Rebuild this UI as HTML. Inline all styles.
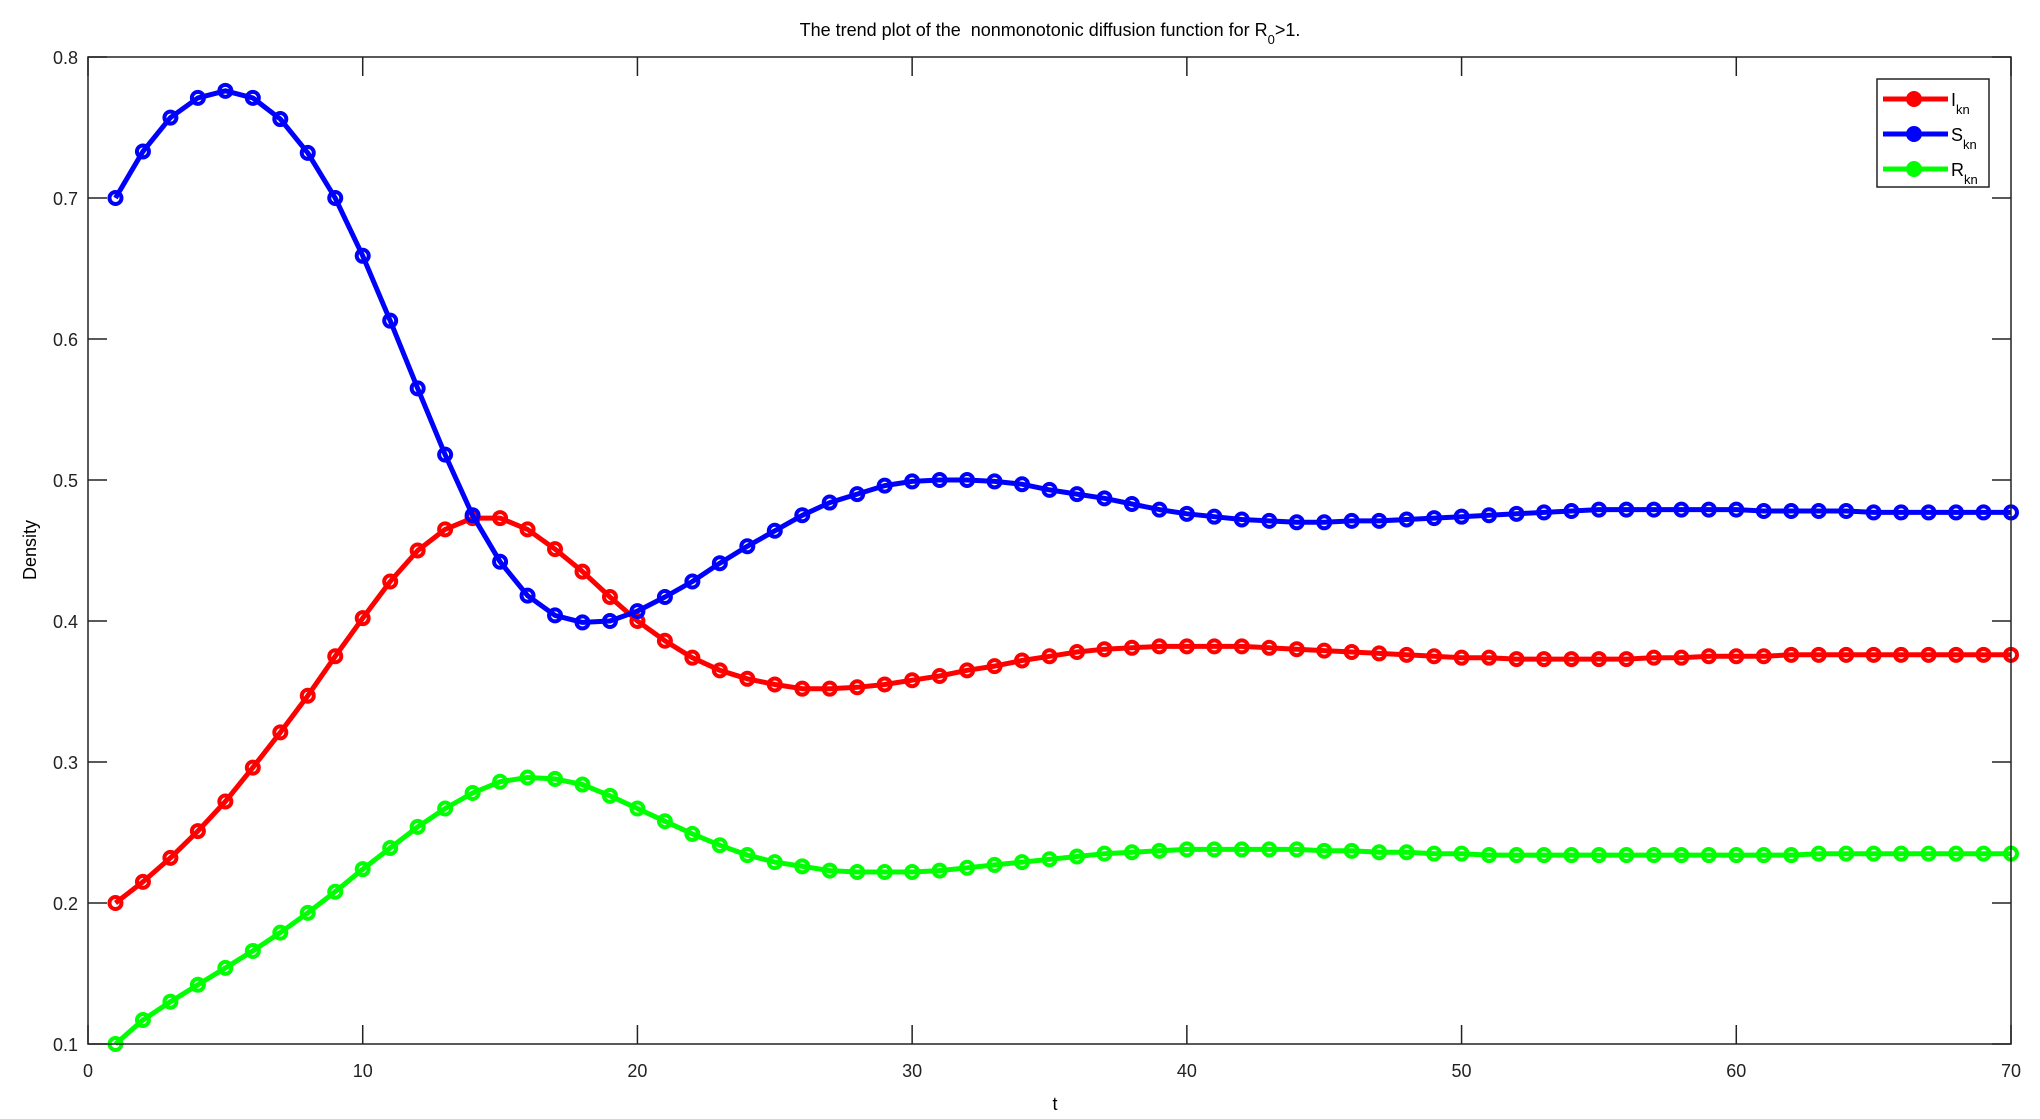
<!DOCTYPE html>
<html><head><meta charset="utf-8"><style>
body{margin:0;background:#fff}
svg{display:block;font-family:"Liberation Sans",sans-serif}
</style></head><body>
<svg id="s" width="2040" height="1119" xmlns="http://www.w3.org/2000/svg">
<rect width="2040" height="1119" fill="#fff"/>
</svg>
<script>
const S=[0.70,0.733,0.757,0.771,0.776,0.771,0.756,0.732,0.700,0.659,0.613,0.565,0.518,0.475,0.442,0.418,0.404,0.399,0.400,0.407,0.417,0.428,0.441,0.453,0.464,0.475,0.484,0.490,0.496,0.499,0.500,0.500,0.499,0.497,0.493,0.490,0.487,0.483,0.479,0.476,0.474,0.472,0.471,0.470,0.470,0.471,0.471,0.472,0.473,0.474,0.475,0.476,0.477,0.478,0.479,0.479,0.479,0.479,0.479,0.479,0.478,0.478,0.478,0.478,0.477,0.477,0.477,0.477,0.477,0.477];
const I=[0.200,0.215,0.232,0.251,0.272,0.296,0.321,0.347,0.375,0.402,0.428,0.450,0.465,0.473,0.473,0.465,0.451,0.435,0.417,0.400,0.386,0.374,0.365,0.359,0.355,0.352,0.352,0.353,0.355,0.358,0.361,0.365,0.368,0.372,0.375,0.378,0.380,0.381,0.382,0.382,0.382,0.382,0.381,0.380,0.379,0.378,0.377,0.376,0.375,0.374,0.374,0.373,0.373,0.373,0.373,0.373,0.374,0.374,0.375,0.375,0.375,0.376,0.376,0.376,0.376,0.376,0.376,0.376,0.376,0.376];
const R=[0.100,0.117,0.130,0.142,0.154,0.166,0.179,0.193,0.208,0.224,0.239,0.254,0.267,0.278,0.286,0.289,0.288,0.284,0.276,0.267,0.258,0.249,0.241,0.234,0.229,0.226,0.223,0.222,0.222,0.222,0.223,0.225,0.227,0.229,0.231,0.233,0.235,0.236,0.237,0.238,0.238,0.238,0.238,0.238,0.237,0.237,0.236,0.236,0.235,0.235,0.234,0.234,0.234,0.234,0.234,0.234,0.234,0.234,0.234,0.234,0.234,0.234,0.235,0.235,0.235,0.235,0.235,0.235,0.235,0.235];
const L=88,Rr=2011,T=57,B=1044;
const X=t=>L+(Rr-L)*t/70, Y=v=>B-(B-T)*(v-0.1)/0.7;
let h='';
for(let i=0;i<=7;i++){const x=X(i*10);
h+=`<line x1="${x}" y1="${B}" x2="${x}" y2="${B-19}" stroke="#222" stroke-width="1.5"/><line x1="${x}" y1="${T}" x2="${x}" y2="${T+19}" stroke="#222" stroke-width="1.5"/>`;
h+=`<text x="${x}" y="${B+33}" font-size="18" text-anchor="middle" fill="#222">${i*10}</text>`;}
for(let i=1;i<=8;i++){const v=i/10,y=Y(v);
h+=`<line x1="${L}" y1="${y}" x2="${L+19}" y2="${y}" stroke="#222" stroke-width="1.5"/><line x1="${Rr}" y1="${y}" x2="${Rr-19}" y2="${y}" stroke="#222" stroke-width="1.5"/>`;
h+=`<text x="${L-10}" y="${y+7}" font-size="18" text-anchor="end" fill="#222">${v.toFixed(1)}</text>`;}
function ser(d,c){let p=d.map((v,i)=>X(i+1).toFixed(1)+','+Y(v).toFixed(1)).join(' ');
let s=`<polyline points="${p}" fill="none" stroke="${c}" stroke-width="5" stroke-linejoin="round"/>`;
d.forEach((v,i)=>s+=`<circle cx="${X(i+1)}" cy="${Y(v)}" r="6" fill="none" stroke="${c}" stroke-width="4"/>`);return s;}
h+=ser(I,'#f00')+ser(S,'#00f')+ser(R,'#0f0');
h+=`<rect x="${L}" y="${T}" width="${Rr-L}" height="${B-T}" fill="none" stroke="#222" stroke-width="1.5"/>`;
h+=`<text x="1050" y="36" font-size="18" text-anchor="middle" fill="#000">The trend plot of the &#160;nonmonotonic diffusion function for R<tspan font-size="13" dy="8">0</tspan><tspan dy="-8">&gt;1.</tspan></text>`;
h+=`<text x="1055" y="1110" font-size="18" text-anchor="middle" fill="#000">t</text>`;
h+=`<text transform="translate(36,550) rotate(-90)" font-size="18" text-anchor="middle" fill="#000">Density</text>`;
h+=`<rect x="1877" y="79" width="112" height="108" fill="#fff" stroke="#222" stroke-width="1.5"/>`;
[['#f00','I'],['#00f','S'],['#0f0','R']].forEach((e,k)=>{const y=99+k*35;
h+=`<line x1="1883" y1="${y}" x2="1948" y2="${y}" stroke="${e[0]}" stroke-width="5"/><circle cx="1914" cy="${y}" r="6" fill="${e[0]}" stroke="${e[0]}" stroke-width="4"/>`;
h+=`<text x="1951" y="${y+7}" font-size="18" fill="#000">${e[1]}<tspan font-size="13" dy="8">kn</tspan></text>`;});
document.getElementById('s').insertAdjacentHTML('beforeend',h);
</script>
</body></html>
